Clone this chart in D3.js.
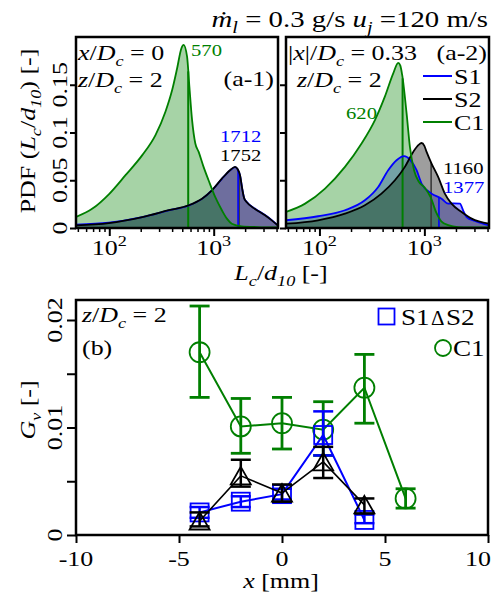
<!DOCTYPE html>
<html><head><meta charset="utf-8">
<script src="https://cdn.jsdelivr.net/npm/d3@7/dist/d3.min.js"></script>
<style>
body{margin:0;background:#fff}
svg{display:block;background:#fff}
text{font-family:"Liberation Serif","Times New Roman",serif;white-space:pre}
</style>
</head><body>
<svg id="c" width="491" height="598"></svg>
<script>
// ---------------- DATA ----------------
// Panel (a-1): x/Dc = 0
const a1_C1_L   = [48, 69, 99, 143, 207, 277, 345, 400, 446, 490, 515, 556, 585, 621, 667, 718, 800, 893, 1033, 1198, 1338, 1491, 1857, 2600, 4130];
const a1_C1_pdf = [0.0115, 0.0203, 0.0353, 0.0553, 0.0763, 0.0973, 0.1217, 0.1444, 0.167, 0.188, 0.1917, 0.1794, 0.148, 0.113, 0.0885, 0.0797, 0.064, 0.050, 0.0325, 0.0186, 0.0098, 0.0045, 0.0018, 0.001, 0.0005];
const a1_S_L    = [48, 99, 207, 371, 576, 772, 961, 1198, 1434, 1601, 1700, 1790, 1870, 1960, 2075, 2489, 3101, 3600, 4130];
const a1_S2_pdf = [0.0028, 0.0052, 0.0115, 0.0186, 0.0238, 0.0307, 0.0395, 0.0517, 0.0605, 0.0640, 0.0615, 0.0550, 0.0420, 0.0310, 0.0270, 0.0200, 0.0133, 0.0080, 0.0025];
const a1_S1_pdf = [0.0036, 0.0055, 0.0113, 0.0184, 0.0236, 0.0305, 0.0393, 0.0515, 0.0603, 0.0638, 0.0613, 0.0548, 0.0420, 0.0312, 0.0272, 0.0202, 0.0135, 0.0082, 0.0027];
// Panel (a-2): |x|/Dc = 0.33
const a2_C1_L   = [48, 73, 113, 175, 252, 338, 420, 505, 563, 590, 615, 677, 728, 800, 880, 1011, 1150, 1300, 1450, 1686, 2101, 4130];
const a2_C1_pdf = [0.0168, 0.0255, 0.0413, 0.064, 0.0885, 0.113, 0.1375, 0.162, 0.173, 0.170, 0.160, 0.12, 0.085, 0.060, 0.049, 0.042, 0.032, 0.016, 0.007, 0.003, 0.001, 0.0005];
const a2_S1_L   = [48, 97, 175, 271, 363, 452, 543, 642, 728, 843, 940, 1171, 1458, 1686, 1900, 2181, 2350, 2529, 3028, 4130];
const a2_S1_pdf = [0.0081, 0.0123, 0.0186, 0.029, 0.043, 0.0605, 0.071, 0.0752, 0.0717, 0.0605, 0.0465, 0.036, 0.0307, 0.0255, 0.0258, 0.0255, 0.018, 0.0115, 0.0073, 0.0028];
const a2_S2_L   = [48, 97, 175, 271, 390, 524, 652, 783, 880, 940, 1000, 1050, 1171, 1353, 1567, 1814, 2265, 2823, 4130];
const a2_S2_pdf = [0.0045, 0.0081, 0.015, 0.0238, 0.036, 0.050, 0.064, 0.0797, 0.087, 0.089, 0.086, 0.0797, 0.0675, 0.0535, 0.036, 0.0255, 0.0168, 0.0098, 0.0045];
// Marked characteristic lengths (vertical lines + labels)
const a1_marks = [["S2", 1752], ["S1", 1712], ["C1", 570]];
const a2_marks = [["S2", 1160], ["S1", 1377], ["C1", 620]];
const seriesNames = ["S1", "S2", "C1"];
// Panel (b)
const b_x      = [-4, -2, 0, 2, 4, 6];
const b_C1     = [0.0170, 0.0101, 0.0104, 0.0098, 0.0137, 0.0034];
const b_C1_lo  = [0.0128, 0.0076, 0.0080, 0.0074, 0.0104, 0.0025];
const b_C1_hi  = [0.0213, 0.0127, 0.0128, 0.0124, 0.0168, 0.0043];
const b_xS     = [-4, -2, 0, 2, 4];
const b_S1     = [0.0021, 0.0031, 0.0038, 0.0093, 0.0014];
const b_S1_lo  = [0.0016, 0.0026, 0.0033, 0.0074, 0.0011];
const b_S1_hi  = [0.0026, 0.0036, 0.0043, 0.0115, 0.0019];
const b_S2     = [0.0013, 0.0055, 0.0039, 0.0068, 0.0028];
const b_S2_lo  = [0.0008, 0.0045, 0.0031, 0.0053, 0.0020];
const b_S2_hi  = [0.0021, 0.0070, 0.0047, 0.0082, 0.0034];
const aYTicks = [0, 0.05, 0.1, 0.15];
const aYTickLabels = ["0", "0.05", "0.1", "0.15"];
const aXMajor = [100, 1000];
const aXMinor = [50,60,70,80,90,200,300,400,500,600,700,800,900,2000,3000,4000];
const bYTicks = [0, 0.005, 0.01, 0.015, 0.02];
const bYLabels = [[0,"0"],[0.01,"0.01"],[0.02,"0.02"]];
const bXTicks = [-10, -5, 0, 5, 10];

// ---------------- STYLE ----------------
const col = {S1: "#0000ff", S2: "#000000", C1: "#007f00"};
const fillCol = {S1: "rgba(0,0,255,0.30)", S2: "rgba(0,0,0,0.38)", C1: "rgba(0,128,0,0.35)"};
const FS = 22, SX = 1.18;

const svg = d3.select("#c");

// rich text helper
const R = t => ({t}), I = t => ({t, i: true}), Sb = (t, i) => ({t, sub: true, i}), Sp = t => ({t, sup: true});
function txt(x, y, segs, o = {}) {
  const size = o.size || FS, sx = o.sx || SX;
  const g = svg.append("g").attr("transform",
    `translate(${x},${y})` + (o.rotate ? ` rotate(${o.rotate})` : "") + ` scale(${sx},1)`);
  const t = g.append("text").attr("text-anchor", o.anchor || "start")
    .attr("font-size", size).attr("fill", o.color || "#000");
  let cur = 0;
  segs.forEach(s => {
    const sp = t.append("tspan").text(s.t);
    if (s.i) sp.attr("font-style", "italic");
    let target = 0;
    if (s.sub) { sp.attr("font-size", size * 0.7); target = size * 0.25; }
    if (s.sup) { sp.attr("font-size", size * 0.7); target = -size * 0.42; }
    if (target !== cur) { sp.attr("dy", target - cur); cur = target; }
  });
  return g;
}

// ---------------- PANEL A ----------------
const aTop = 37, aBot = 228;
const panels = [
  {left: 76, right: 278, C1: [a1_C1_L, a1_C1_pdf], S1: [a1_S_L, a1_S1_pdf], S2: [a1_S_L, a1_S2_pdf], marks: a1_marks, id: "a1"},
  {left: 286, right: 489, C1: [a2_C1_L, a2_C1_pdf], S1: [a2_S1_L, a2_S1_pdf], S2: [a2_S2_L, a2_S2_pdf], marks: a2_marks, id: "a2"}
];
const ya = d3.scaleLinear().domain([0, 0.2]).range([aBot, aTop]);

function interp(Ls, ps, L) {
  for (let i = 0; i < Ls.length - 1; i++) {
    if (L >= Ls[i] && L <= Ls[i + 1]) {
      const f = (Math.log(L) - Math.log(Ls[i])) / (Math.log(Ls[i + 1]) - Math.log(Ls[i]));
      return ps[i] + f * (ps[i + 1] - ps[i]);
    }
  }
  return 0;
}

panels.forEach(p => {
  const x = d3.scaleLog().domain([48, 4130]).range([p.left, p.right]);
  p.x = x;
  svg.append("clipPath").attr("id", "clip" + p.id).append("rect")
    .attr("x", p.left).attr("y", aTop).attr("width", p.right - p.left).attr("height", aBot - aTop);
  const g = svg.append("g").attr("clip-path", `url(#clip${p.id})`);
  const area = d3.area().x(d => x(d[0])).y0(ya(0)).y1(d => ya(d[1])).curve(d3.curveMonotoneX);
  const line = d3.line().x(d => x(d[0])).y(d => ya(d[1])).curve(d3.curveMonotoneX);
  const pts = k => p[k][0].map((L, i) => [L, p[k][1][i]]);
  seriesNames.forEach(k => g.append("path").attr("d", area(pts(k))).attr("fill", fillCol[k]));
  // vertical marker lines
  p.marks.forEach(([k, L]) => {
    const v = interp(p[k][0], p[k][1], L);
    g.append("line").attr("x1", x(L)).attr("x2", x(L)).attr("y1", ya(0)).attr("y2", ya(v))
      .attr("stroke", k === "S2" ? "#3a3a3a" : col[k]).attr("stroke-width", k === "C1" ? 2 : 1.6);
  });
  seriesNames.forEach(k => g.append("path").attr("d", line(pts(k))).attr("fill", "none")
    .attr("stroke", col[k]).attr("stroke-width", 1.8));
  // axes ticks
  svg.append("g").attr("transform", `translate(0,${aBot})`)
    .call(d3.axisBottom(x).tickValues(aXMajor).tickSize(8).tickFormat(""))
    .call(s => s.select(".domain").remove()).selectAll("line").attr("stroke-width", 2);
  svg.append("g").attr("transform", `translate(0,${aBot})`)
    .call(d3.axisBottom(x).tickValues(aXMinor).tickSize(4).tickFormat(""))
    .call(s => s.select(".domain").remove()).selectAll("line").attr("stroke-width", 1.5);
  svg.append("g").attr("transform", `translate(${p.left},0)`)
    .call(d3.axisLeft(ya).tickValues(aYTicks).tickSize(6).tickFormat(""))
    .call(s => s.select(".domain").remove()).selectAll("line").attr("stroke-width", 2);
  svg.append("rect").attr("x", p.left).attr("y", aTop).attr("width", p.right - p.left)
    .attr("height", aBot - aTop).attr("fill", "none").attr("stroke", "#000").attr("stroke-width", 2.5);
  aXMajor.forEach(v => txt(x(v), 255, [R("10"), Sp(String(Math.round(Math.log10(v))))], {anchor: "middle"}));
});

// y tick labels panel a
aYTicks.forEach((v, i) => txt(67, ya(v), [R(aYTickLabels[i])], {rotate: -90, anchor: "middle"}));
// y label a
txt(35, 131, [R("PDF ("), I("L"), Sb("c", true), R("/"), I("d"), Sb("10", true), R(") [-]")], {rotate: -90, anchor: "middle"});
// x label a
txt(281, 280, [I("L"), Sb("c", true), R("/"), I("d"), Sb("10", true), R(" [-]")], {anchor: "middle"});
// title
txt(488, 27, [I("ṁ"), Sb("l", true), R(" = 0.3 g/s "), I("u"), Sb("j", true), R(" =120 m/s")], {anchor: "end", size: 24, sx: 1.2});
// annotations a-1
txt(78, 60, [I("x"), R("/"), I("D"), Sb("c", true), R(" = 0")]);
txt(78, 87, [I("z"), R("/"), I("D"), Sb("c", true), R(" = 2")]);
txt(274, 86, [R("(a-1)")], {anchor: "end"});
// annotations a-2
txt(288, 60, [R("|"), I("x"), R("|/"), I("D"), Sb("c", true), R(" = 0.33")]);
txt(487, 60, [R("(a-2)")], {anchor: "end"});
txt(297, 87, [I("z"), R("/"), I("D"), Sb("c", true), R(" = 2")]);
// peak labels
const PL = 17.5;
txt(191, 56, [R(String(a1_marks[2][1]))], {size: PL, color: col.C1});
txt(220, 142, [R(String(a1_marks[1][1]))], {size: PL, color: col.S1});
txt(220, 161, [R(String(a1_marks[0][1]))], {size: PL, color: col.S2});
txt(346, 119, [R(String(a2_marks[2][1]))], {size: PL, color: col.C1});
txt(443, 174, [R(String(a2_marks[0][1]))], {size: PL, color: col.S2});
txt(443, 193, [R(String(a2_marks[1][1]))], {size: PL, color: col.S1});
// legend a-2
seriesNames.forEach((k, i) => {
  const yy = 76 + i * 23;
  svg.append("line").attr("x1", 423).attr("x2", 452).attr("y1", yy).attr("y2", yy)
    .attr("stroke", col[k]).attr("stroke-width", 2);
  txt(454, yy + 7.5, [R(k)], {size: 20, sx: 1.3});
});

// ---------------- PANEL B ----------------
const bL = 76, bR = 488, bT = 300, bB = 535;
const xb = d3.scaleLinear().domain([-10, 10]).range([bL, bR]);
const yb = d3.scaleLinear().domain([0, 0.02186]).range([bB, bT]);

svg.append("g").attr("transform", `translate(0,${bB})`)
  .call(d3.axisBottom(xb).tickValues(bXTicks).tickSize(8).tickFormat(""))
  .call(s => s.select(".domain").remove()).selectAll("line").attr("stroke-width", 2);
svg.append("g").attr("transform", `translate(${bL},0)`)
  .call(d3.axisLeft(yb).tickValues(bYTicks).tickSize(9).tickFormat(""))
  .call(s => s.select(".domain").remove()).selectAll("line").attr("stroke-width", 2);
bXTicks.forEach(v => txt(Math.min(xb(v), 478), 566, [R(String(v))], {anchor: "middle"}));
bYLabels.forEach(([v, l]) => txt(62, yb(v), [R(l)], {rotate: -90, anchor: "middle"}));
txt(35, 410, [I("G"), Sb("v", true), R(" [-]")], {rotate: -90, anchor: "middle"});
txt(281, 588, [I("x"), R(" [mm]")], {anchor: "middle"});
txt(82, 322, [I("z"), R("/"), I("D"), Sb("c", true), R(" = 2")]);
txt(82, 355, [R("(b)")]);

const gb = svg.append("g");
const bline = d3.line().x(d => xb(d[0])).y(d => yb(d[1]));
function series(xs, ys, lo, hi, c, lw, ew, marker) {
  const g = gb.append("g");
  g.append("path").attr("d", bline(xs.map((v, i) => [v, ys[i]]))).attr("fill", "none")
    .attr("stroke", c).attr("stroke-width", lw);
  xs.forEach((v, i) => {
    const cx = xb(v);
    g.append("line").attr("x1", cx).attr("x2", cx).attr("y1", yb(lo[i])).attr("y2", yb(hi[i]))
      .attr("stroke", c).attr("stroke-width", ew);
    [lo[i], hi[i]].forEach(e => g.append("line").attr("x1", cx - 10).attr("x2", cx + 10)
      .attr("y1", yb(e)).attr("y2", yb(e)).attr("stroke", c).attr("stroke-width", ew));
    marker(g.append("g").attr("transform", `translate(${cx},${yb(ys[i])})`), c);
  });
}
const circ = (g, c) => g.append("circle").attr("r", 10).attr("fill", "none").attr("stroke", c).attr("stroke-width", 1.8);
const sq = (g, c) => g.append("rect").attr("x", -9).attr("y", -9).attr("width", 18).attr("height", 18)
  .attr("fill", "none").attr("stroke", c).attr("stroke-width", 1.8);
const tri = (g, c) => g.append("path").attr("d", "M0,-9L10,8.5L-10,8.5Z").attr("fill", "none")
  .attr("stroke", c).attr("stroke-width", 1.8);
series(b_x, b_C1, b_C1_lo, b_C1_hi, col.C1, 2, 2.8, circ);
series(b_xS, b_S1, b_S1_lo, b_S1_hi, col.S1, 2, 2.5, sq);
series(b_xS, b_S2, b_S2_lo, b_S2_hi, col.S2, 1.6, 2.5, tri);

svg.append("rect").attr("x", bL).attr("y", bT).attr("width", bR - bL).attr("height", bB - bT)
  .attr("fill", "none").attr("stroke", "#000").attr("stroke-width", 2.5);

// legend b
sq(svg.append("g").attr("transform", "translate(386.5,316.5)"), col.S1)
  .attr("x", -8).attr("y", -8).attr("width", 16).attr("height", 16);
txt(401, 325, [R("S1")], {size: 23});
txt(431, 325, [R("Δ")], {size: 20, sx: 1.05});
txt(446, 325, [R("S2")], {size: 23});
svg.append("circle").attr("cx", 443).attr("cy", 348).attr("r", 8).attr("fill", "none")
  .attr("stroke", col.C1).attr("stroke-width", 1.8);
txt(453, 356, [R("C1")], {size: 23});
</script>
</body></html>
